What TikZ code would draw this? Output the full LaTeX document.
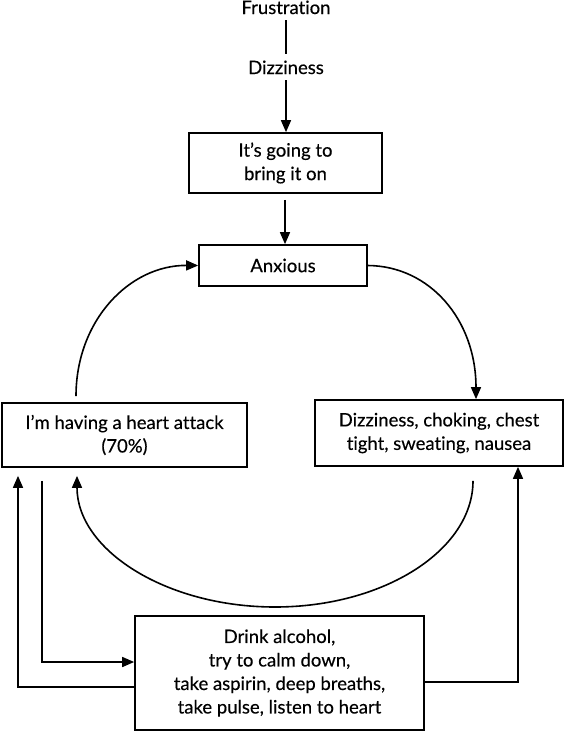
\documentclass[tikz,border=0pt]{standalone}
\usepackage{fontspec}
\setmainfont{Lato}[Ligatures=NoCommon, FakeBold=0.3]
\usetikzlibrary{arrows.meta}
\tikzset{
  box/.style={draw, line width=1.7pt, align=center, inner sep=0pt,
    font=\fontsize{18.5}{23.5}\selectfont},
  lbl/.style={inner sep=0pt, anchor=base, font=\fontsize{18.5}{23.5}\selectfont},
  con/.style={line width=1.6pt},
  arr/.style={line width=1.6pt, -{Triangle[length=12pt,width=10pt]}},
}
\begin{document}
\begin{tikzpicture}[x=1pt,y=-1pt]
\useasboundingbox (0,0) rectangle (566,732);
\node[lbl] (frus) at (286,14) {Frustration};
\node[lbl] (dizz) at (286,74) {Dizziness};
\node[box, minimum width=193pt, minimum height=60pt] (bring) at (285.5,163) {It’s going to\\bring it on};
\node[box, minimum width=168pt, minimum height=41pt] (anx) at (283,265.5) {Anxious};
\node[box, minimum width=245pt, minimum height=64pt] (heart) at (124.5,435) {I’m having a heart attack\\(70\%)};
\node[box, minimum width=248pt, minimum height=66pt] (symp) at (439,433) {Dizziness, choking, chest\\tight, sweating, nausea};
\node[box, minimum width=289pt, minimum height=114pt] (act) at (279.5,673) {Drink alcohol,\\try to calm down,\\take aspirin, deep breaths,\\take pulse, listen to heart};

\coordinate (c4) at (285,0);
\draw[con] ([yshift=-6pt]frus.base) -- ([yshift=6pt]dizz.north);
\draw[arr] ([yshift=-6pt]dizz.base) -- (dizz.base |- bring.north);
\draw[arr] ([yshift=-6pt]bring.south -| c4) -- (anx.north -| c4);

\draw[arr] ([xshift=-48.5pt,yshift=6pt]heart.north) .. controls (76,320) and (130,265) .. (anx.west);
\draw[arr] (anx.east) .. controls (430,266) and (476,320) .. ([xshift=37pt]symp.north);
\draw[arr] ([xshift=34pt,yshift=-14pt]symp.south) .. controls (473,550) and (384,607) .. (275,607)
   .. controls (166,607) and (77,550) .. ([xshift=-47.5pt,yshift=-8pt]heart.south);

\coordinate (c1) at (42,662);
\coordinate (c2) at (18,687);
\coordinate (c3) at (518,682);
\draw[arr] ([xshift=-82.5pt,yshift=-13pt]heart.south) -- (c1) -- (act.west |- c1);
\draw[arr] (act.west |- c2) -- (c2) -- ([xshift=-106.5pt,yshift=-8pt]heart.south);
\draw[arr] (act.east |- c3) -- (c3) -- (symp.south -| c3);
\end{tikzpicture}
\end{document}
